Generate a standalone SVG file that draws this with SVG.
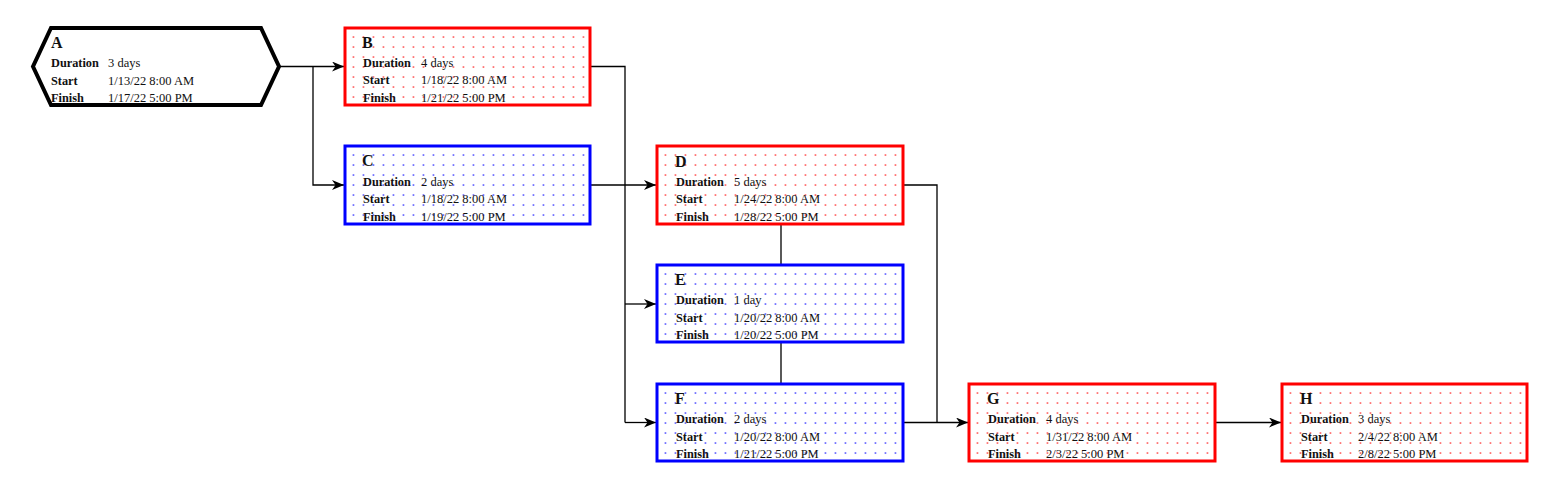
<svg xmlns="http://www.w3.org/2000/svg" width="1541" height="496" viewBox="0 0 1541 496">
<style>
text{font-family:"Liberation Serif","Times New Roman",serif;fill:#111}
.t{font-size:16px;font-weight:bold}
.l{font-size:12.3px;font-weight:bold}
.v{font-size:12.5px}
.bg{fill:#fff}
.red{stroke:#f00;stroke-width:3}
.blue{stroke:#00f;stroke-width:3}
.c{fill:none;stroke:#000;stroke-width:1.3}
</style>
<defs>
<pattern id="pr" x="0" y="0" width="10" height="10" patternUnits="userSpaceOnUse"><rect x="7.6" y="8.2" width="1.7" height="1.7" fill="#f66"/></pattern>
<pattern id="pb" x="0" y="0" width="10" height="10" patternUnits="userSpaceOnUse"><rect x="7.6" y="8.2" width="1.7" height="1.7" fill="#66f"/></pattern>
<marker id="ar" viewBox="0 0 12 10" refX="12" refY="5" markerWidth="12" markerHeight="10" markerUnits="userSpaceOnUse" orient="auto"><path d="M0,0 L12,5 L0,10 L3.5,5 z" fill="#000"/></marker>
</defs>
<g id="connectors">
<path class="c" d="M279,66.5 H344" marker-end="url(#ar)"/>
<path class="c" d="M313,66.5 V185 H344" marker-end="url(#ar)"/>
<path class="c" d="M591,66.5 H625 V422.5"/>
<path class="c" d="M591,185 H656" marker-end="url(#ar)"/>
<path class="c" d="M625,304 H656" marker-end="url(#ar)"/>
<path class="c" d="M625,422.5 H656" marker-end="url(#ar)"/>
<path class="c" d="M781,224 V265"/>
<path class="c" d="M781,342 V384"/>
<path class="c" d="M903,185 H937 V422.5"/>
<path class="c" d="M903,422.5 H968" marker-end="url(#ar)"/>
<path class="c" d="M1214,422.5 H1281" marker-end="url(#ar)"/>
</g>
<g id="A">
<polygon points="51,28 261,28 279,66.5 261,105 51,105 33,66.5" fill="#fff" stroke="#000" stroke-width="4" stroke-linejoin="miter"/>
<text class="t" x="51" y="48">A</text>
<text class="l" x="51" y="67">Duration</text><text class="v" x="108" y="67">3 days</text>
<text class="l" x="51" y="85">Start</text><text class="v" x="108" y="85">1/13/22 8:00 AM</text>
<text class="l" x="51" y="102">Finish</text><text class="v" x="108" y="102">1/17/22 5:00 PM</text>
</g>
<g id="B" transform="translate(345,28)">
<rect width="245" height="77" class="bg"/>
<rect width="245" height="77" fill="url(#pr)" class="red"/>
<text class="t" x="17" y="20">B</text>
<text class="l" x="18" y="39">Duration</text><text class="v" x="76" y="39">4 days</text>
<text class="l" x="18" y="56">Start</text><text class="v" x="76" y="56">1/18/22 8:00 AM</text>
<text class="l" x="18" y="74">Finish</text><text class="v" x="76" y="74">1/21/22 5:00 PM</text>
</g>
<g id="C" transform="translate(345,146)">
<rect width="245" height="78" class="bg"/>
<rect width="245" height="78" fill="url(#pb)" class="blue"/>
<text class="t" x="17" y="20">C</text>
<text class="l" x="18" y="40">Duration</text><text class="v" x="76" y="40">2 days</text>
<text class="l" x="18" y="57">Start</text><text class="v" x="76" y="57">1/18/22 8:00 AM</text>
<text class="l" x="18" y="75">Finish</text><text class="v" x="76" y="75">1/19/22 5:00 PM</text>
</g>
<g id="D" transform="translate(657,146)">
<rect width="246" height="78" class="bg"/>
<rect width="246" height="78" fill="url(#pr)" class="red"/>
<text class="t" x="18" y="21">D</text>
<text class="l" x="19" y="40">Duration</text><text class="v" x="77" y="40">5 days</text>
<text class="l" x="19" y="57">Start</text><text class="v" x="77" y="57">1/24/22 8:00 AM</text>
<text class="l" x="19" y="75">Finish</text><text class="v" x="77" y="75">1/28/22 5:00 PM</text>
</g>
<g id="E" transform="translate(657,265)">
<rect width="246" height="77" class="bg"/>
<rect width="246" height="77" fill="url(#pb)" class="blue"/>
<text class="t" x="18" y="20">E</text>
<text class="l" x="19" y="39">Duration</text><text class="v" x="77" y="39">1 day</text>
<text class="l" x="19" y="57">Start</text><text class="v" x="77" y="57">1/20/22 8:00 AM</text>
<text class="l" x="19" y="74">Finish</text><text class="v" x="77" y="74">1/20/22 5:00 PM</text>
</g>
<g id="F" transform="translate(657,384)">
<rect width="246" height="77" class="bg"/>
<rect width="246" height="77" fill="url(#pb)" class="blue"/>
<text class="t" x="18" y="20">F</text>
<text class="l" x="19" y="39">Duration</text><text class="v" x="77" y="39">2 days</text>
<text class="l" x="19" y="57">Start</text><text class="v" x="77" y="57">1/20/22 8:00 AM</text>
<text class="l" x="19" y="74">Finish</text><text class="v" x="77" y="74">1/21/22 5:00 PM</text>
</g>
<g id="G" transform="translate(969,384)">
<rect width="246" height="77" class="bg"/>
<rect width="246" height="77" fill="url(#pr)" class="red"/>
<text class="t" x="18" y="20">G</text>
<text class="l" x="19" y="39">Duration</text><text class="v" x="77" y="39">4 days</text>
<text class="l" x="19" y="57">Start</text><text class="v" x="77" y="57">1/31/22 8:00 AM</text>
<text class="l" x="19" y="74">Finish</text><text class="v" x="77" y="74">2/3/22 5:00 PM</text>
</g>
<g id="H" transform="translate(1282,384)">
<rect width="245" height="77" class="bg"/>
<rect width="245" height="77" fill="url(#pr)" class="red"/>
<text class="t" x="18" y="20">H</text>
<text class="l" x="19" y="39">Duration</text><text class="v" x="76" y="39">3 days</text>
<text class="l" x="19" y="57">Start</text><text class="v" x="76" y="57">2/4/22 8:00 AM</text>
<text class="l" x="19" y="74">Finish</text><text class="v" x="76" y="74">2/8/22 5:00 PM</text>
</g>
</svg>
